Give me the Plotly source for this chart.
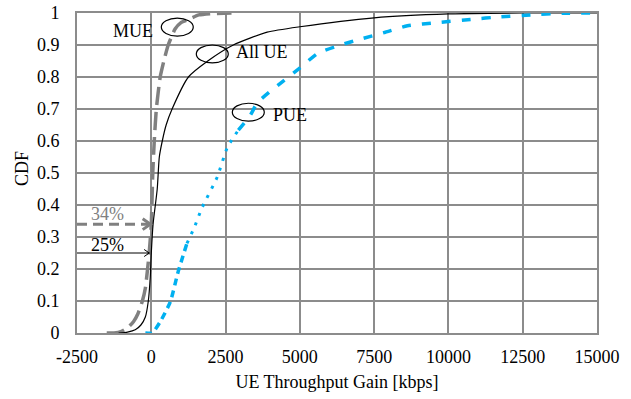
import plotly.graph_objects as go

# ---------------- data ----------------
mue_x = [-1500, -1250, -1000, -800, -600, -450, -300, -200, -70, 0, 50, 100, 170, 300, 450, 570, 800, 1000, 1250, 1600, 2000, 2700]
mue_y = [0, 0.0, 0.005, 0.016, 0.035, 0.06, 0.1, 0.14, 0.25, 0.34, 0.5, 0.6, 0.7, 0.8, 0.86, 0.9, 0.95, 0.97, 0.98, 0.994, 0.998, 1.0]

all_x = [-1100, -800, -540, -350, -200, -100, -34, 0, 60, 200, 270, 370, 500, 700, 1250, 1900, 2760, 3900, 5000, 7500, 10000, 12500, 15000]
all_y = [0, 0.003, 0.01, 0.025, 0.05, 0.1, 0.175, 0.25, 0.34, 0.45, 0.55, 0.6, 0.65, 0.7, 0.8, 0.85, 0.9, 0.94, 0.957, 0.985, 0.997, 1.0, 1.0]

pue_x = [-200, 30, 300, 640, 900, 1200, 1450, 1700, 2220, 2560, 2930, 3330, 3570, 4070, 5020, 5620, 6360, 7100, 7880, 8620, 9630, 10740, 11750, 12760, 13830, 15000]
pue_y = [0, 0, 0.035, 0.097, 0.19, 0.28, 0.33, 0.39, 0.4875, 0.58, 0.634, 0.68, 0.72, 0.76, 0.83, 0.875, 0.9, 0.92, 0.94, 0.96, 0.97, 0.98, 0.988, 0.994, 0.999, 1.0]

x_ticks = [-2500, 0, 2500, 5000, 7500, 10000, 12500, 15000]
y_ticks = [0, 0.1, 0.2, 0.3, 0.4, 0.5, 0.6, 0.7, 0.8, 0.9, 1]
y_tick_labels = ["0", "0.1", "0.2", "0.3", "0.4", "0.5", "0.6", "0.7", "0.8", "0.9", "1"]

mue_pct, all_pct = 0.34, 0.25

FONT = "Liberation Serif, DejaVu Serif, serif"
BLUE = "#00B0F0"
GRAY = "#808080"
GRID = "#8c8c8c"

fig = go.Figure()

# MUE
fig.add_trace(go.Scatter(x=mue_x, y=mue_y, mode="lines",
                         line=dict(color=GRAY, width=3.5, dash="18px,7px", shape="spline", smoothing=0.5),
                         showlegend=False))
# All UE
fig.add_trace(go.Scatter(x=all_x, y=all_y, mode="lines",
                         line=dict(color="black", width=1.2, shape="spline", smoothing=0.6), showlegend=False))
# PUE in three styled segments
i1 = pue_y.index(0.28)
i2 = pue_y.index(0.634)
fig.add_trace(go.Scatter(x=pue_x[:i1 + 1], y=pue_y[:i1 + 1], mode="lines",
                         line=dict(color=BLUE, width=3.5, dash="7px,5px", shape="spline", smoothing=0.5),
                         showlegend=False))
fig.add_trace(go.Scatter(x=pue_x[i1:i2 + 1], y=pue_y[i1:i2 + 1], mode="lines",
                         line=dict(color=BLUE, width=3, dash="3px,7px", shape="spline", smoothing=0.5),
                         showlegend=False))
fig.add_trace(go.Scatter(x=pue_x[i2:], y=pue_y[i2:], mode="lines",
                         line=dict(color=BLUE, width=3.5, dash="9px,11px", shape="spline", smoothing=0.5),
                         showlegend=False))

shapes = []
# ellipses
for (x0, x1, y0, y1) in [(337, 1413, 0.928, 0.984), (1515, 2591, 0.844, 0.900), (2727, 3803, 0.662, 0.718)]:
    shapes.append(dict(type="circle", xref="x", yref="y", x0=x0, x1=x1, y0=y0, y1=y1,
                       line=dict(color="black", width=1.2)))
# 34% dashed gray arrow
shapes.append(dict(type="line", xref="x", yref="y", x0=-2500, x1=-60, y0=mue_pct, y1=mue_pct,
                   line=dict(color=GRAY, width=3, dash="10px,6px")))
shapes.append(dict(type="path", xref="x", yref="y",
                   path=f"M -290 {mue_pct+0.017} L -30 {mue_pct} L -290 {mue_pct-0.017}",
                   line=dict(color=GRAY, width=3)))
# 25% black arrow
shapes.append(dict(type="line", xref="x", yref="y", x0=-2500, x1=-67, y0=all_pct, y1=all_pct,
                   line=dict(color="black", width=1)))
shapes.append(dict(type="path", xref="x", yref="y",
                   path=f"M -240 {all_pct+0.011} L -67 {all_pct} L -240 {all_pct-0.011}",
                   line=dict(color="black", width=1)))

annotations = [
    dict(x=-606, y=0.944, text="MUE", showarrow=False, font=dict(family=FONT, size=18, color="black")),
    dict(x=3736, y=0.878, text="All UE", showarrow=False, font=dict(family=FONT, size=18, color="black")),
    dict(x=4678, y=0.681, text="PUE", showarrow=False, font=dict(family=FONT, size=18, color="black")),
    dict(x=-1481, y=0.372, text="34%", showarrow=False, font=dict(family=FONT, size=18, color=GRAY)),
    dict(x=-1481, y=0.275, text="25%", showarrow=False, font=dict(family=FONT, size=18, color="black")),
    dict(x=-0.106, y=0.515, xref="paper", yref="paper", xanchor="center", yanchor="middle",
         text="CDF", textangle=-90, showarrow=False,
         font=dict(family=FONT, size=18, color="black")),
]

fig.update_layout(
    width=631, height=399,
    margin=dict(l=77, r=34, t=13, b=66),
    paper_bgcolor="white", plot_bgcolor="white",
    font=dict(family=FONT, size=18, color="black"),
    shapes=shapes, annotations=annotations,
    xaxis=dict(range=[-2500, 15000], tickvals=x_ticks, ticktext=[str(v) for v in x_ticks],
               showgrid=True, gridcolor=GRID, gridwidth=1.5, zeroline=False,
               showline=True, linecolor=GRID, linewidth=2, mirror=True,
               ticks="", ticklabelstandoff=6, automargin=False,
               title=dict(text="UE Throughput Gain [kbps]", standoff=10, font=dict(family=FONT, size=18))),
    yaxis=dict(range=[0, 1], tickvals=y_ticks, ticktext=y_tick_labels,
               showgrid=True, gridcolor=GRID, gridwidth=1.5, zeroline=False,
               showline=True, linecolor=GRID, linewidth=2, mirror=True,
               ticks="", ticklabelstandoff=12, automargin=False),
)

fig.write_html("out.html")
